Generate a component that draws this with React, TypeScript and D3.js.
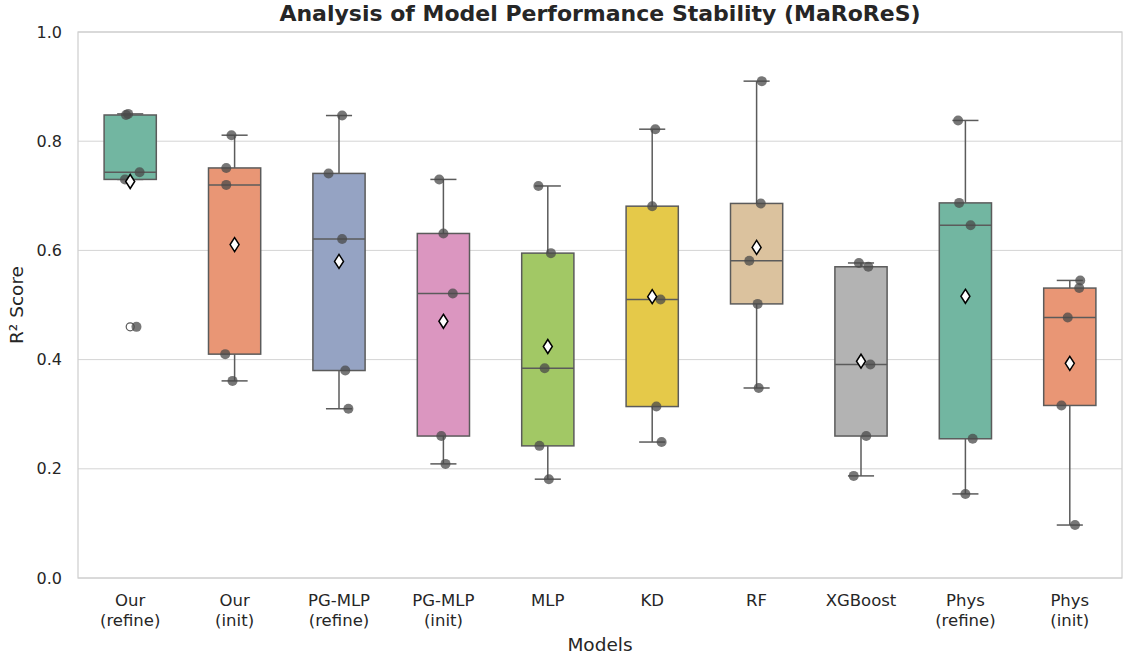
import React, { useEffect, useRef } from 'react';
import * as d3 from 'd3';

// model names (two-line tick labels)
const models = [
  'Our\n(refine)', 'Our\n(init)', 'PG-MLP\n(refine)', 'PG-MLP\n(init)', 'MLP',
  'KD', 'RF', 'XGBoost', 'Phys\n(refine)', 'Phys\n(init)',
];

// R² per run, five runs per model
const scores = [
  [0.850, 0.848, 0.743, 0.730, 0.460],
  [0.811, 0.751, 0.720, 0.410, 0.361],
  [0.847, 0.741, 0.621, 0.380, 0.310],
  [0.730, 0.631, 0.521, 0.260, 0.209],
  [0.718, 0.595, 0.384, 0.242, 0.181],
  [0.822, 0.681, 0.510, 0.314, 0.249],
  [0.910, 0.686, 0.581, 0.502, 0.348],
  [0.577, 0.570, 0.391, 0.260, 0.187],
  [0.838, 0.687, 0.646, 0.255, 0.154],
  [0.545, 0.531, 0.477, 0.316, 0.097],
];

// strip jitter, as a fraction of one category step
const jitter = [
  [-0.02, -0.04, 0.09, -0.05, 0.06],
  [-0.03, -0.08, -0.08, -0.09, -0.02],
  [0.03, -0.10, 0.03, 0.06, 0.09],
  [-0.04, 0.0, 0.09, -0.02, 0.02],
  [-0.09, 0.03, -0.03, -0.08, 0.01],
  [0.03, 0.0, 0.08, 0.04, 0.09],
  [0.05, 0.04, -0.07, 0.01, 0.02],
  [-0.02, 0.07, 0.09, 0.05, -0.07],
  [-0.07, -0.06, 0.05, 0.07, 0.0],
  [0.10, 0.09, -0.02, -0.08, 0.05],
];

const yTicks = [0.0, 0.2, 0.4, 0.6, 0.8, 1.0];

const App = () => {
  const svgRef = useRef(null);

  useEffect(() => {
    document.body.style.margin = '0';
    const width = 1123;
    const height = 658;
    const margin = { top: 32, right: 1, bottom: 80, left: 78 };
    const font = 'DejaVu Sans, sans-serif';
    const textColor = '#262626';
    const lineColor = '#5b5b5b';

    const svg = d3.select(svgRef.current);
    svg.selectAll('*').remove();

    const x = d3.scaleBand()
      .domain(models)
      .range([margin.left, width - margin.right]);
    const y = d3.scaleLinear()
      .domain([0, 1])
      .range([height - margin.bottom, margin.top]);

    // Set2, desaturated like seaborn does (0.75)
    const palette = d3.schemeSet2.map(c => {
      const h = d3.hsl(c);
      h.s *= 0.75;
      return h.formatHex();
    });

    // grid
    svg.append('g')
      .selectAll('line')
      .data(yTicks)
      .join('line')
      .attr('x1', margin.left)
      .attr('x2', width - margin.right)
      .attr('y1', d => y(d))
      .attr('y2', d => y(d))
      .attr('stroke', '#d4d4d4')
      .attr('stroke-width', 1);

    // frame
    svg.append('rect')
      .attr('x', margin.left)
      .attr('y', margin.top)
      .attr('width', width - margin.right - margin.left)
      .attr('height', height - margin.bottom - margin.top)
      .attr('fill', 'none')
      .attr('stroke', '#d0d0d0')
      .attr('stroke-width', 1.25);

    const boxW = x.bandwidth() * 0.5;
    const capW = boxW * 0.5;

    models.forEach((m, i) => {
      const vals = scores[i].slice().sort(d3.ascending);
      const q1 = d3.quantile(vals, 0.25);
      const med = d3.quantile(vals, 0.5);
      const q3 = d3.quantile(vals, 0.75);
      const iqr = q3 - q1;
      const lo = d3.min(vals.filter(v => v >= q1 - 1.5 * iqr));
      const hi = d3.max(vals.filter(v => v <= q3 + 1.5 * iqr));
      const fliers = vals.filter(v => v < lo || v > hi);
      const cx = x(m) + x.bandwidth() / 2;
      const g = svg.append('g');

      // whiskers
      [[q3, hi], [q1, lo]].forEach(([a, b]) => {
        g.append('line')
          .attr('x1', cx).attr('x2', cx)
          .attr('y1', y(a)).attr('y2', y(b))
          .attr('stroke', lineColor).attr('stroke-width', 1.5);
        g.append('line')
          .attr('x1', cx - capW / 2).attr('x2', cx + capW / 2)
          .attr('y1', y(b)).attr('y2', y(b))
          .attr('stroke', lineColor).attr('stroke-width', 1.5);
      });

      g.append('rect')
        .attr('x', cx - boxW / 2)
        .attr('y', y(q3))
        .attr('width', boxW)
        .attr('height', y(q1) - y(q3))
        .attr('fill', palette[i % palette.length])
        .attr('stroke', lineColor)
        .attr('stroke-width', 1.5);

      g.append('line')
        .attr('x1', cx - boxW / 2).attr('x2', cx + boxW / 2)
        .attr('y1', y(med)).attr('y2', y(med))
        .attr('stroke', lineColor).attr('stroke-width', 1.5);

      // outliers
      g.selectAll('circle.flier')
        .data(fliers)
        .join('circle')
        .attr('class', 'flier')
        .attr('cx', cx)
        .attr('cy', d => y(d))
        .attr('r', 4)
        .attr('fill', 'none')
        .attr('stroke', lineColor)
        .attr('stroke-width', 1.2);

      // strip points
      g.selectAll('circle.pt')
        .data(scores[i].map((v, j) => ({ v, j })))
        .join('circle')
        .attr('class', 'pt')
        .attr('cx', d => cx + jitter[i][d.j] * x.step())
        .attr('cy', d => y(d.v))
        .attr('r', 5)
        .attr('fill', '#4a4a4a')
        .attr('fill-opacity', 0.75);

      // mean marker, on top
      const my = y(d3.mean(scores[i]));
      g.append('path')
        .attr('d', `M${cx},${my - 7} L${cx + 4.5},${my} L${cx},${my + 7} L${cx - 4.5},${my} Z`)
        .attr('fill', 'white')
        .attr('stroke', 'black')
        .attr('stroke-width', 1.5);
    });

    // y tick labels
    svg.append('g')
      .selectAll('text')
      .data(yTicks)
      .join('text')
      .attr('x', margin.left - 16)
      .attr('y', d => y(d))
      .attr('dy', '0.35em')
      .attr('text-anchor', 'end')
      .attr('font-family', font)
      .attr('font-size', 16)
      .attr('fill', textColor)
      .text(d => d.toFixed(1));

    // x tick labels
    const xl = svg.append('g');
    models.forEach(m => {
      const t = xl.append('text')
        .attr('x', x(m) + x.bandwidth() / 2)
        .attr('y', height - margin.bottom + 28)
        .attr('text-anchor', 'middle')
        .attr('font-family', font)
        .attr('font-size', 16.5)
        .attr('fill', textColor);
      m.split('\n').forEach((line, k) => {
        t.append('tspan')
          .attr('x', x(m) + x.bandwidth() / 2)
          .attr('dy', k === 0 ? 0 : 20)
          .text(line);
      });
    });

    svg.append('text')
      .attr('x', (margin.left + width - margin.right) / 2)
      .attr('y', 651)
      .attr('text-anchor', 'middle')
      .attr('font-family', font)
      .attr('font-size', 18.5)
      .attr('fill', textColor)
      .text('Models');

    svg.append('text')
      .attr('transform', `translate(23, ${(margin.top + height - margin.bottom) / 2}) rotate(-90)`)
      .attr('text-anchor', 'middle')
      .attr('font-family', font)
      .attr('font-size', 18.5)
      .attr('fill', textColor)
      .text('R² Score');

    svg.append('text')
      .attr('x', (margin.left + width - margin.right) / 2)
      .attr('y', 21)
      .attr('text-anchor', 'middle')
      .attr('font-family', font)
      .attr('font-size', 22)
      .attr('font-weight', 'bold')
      .attr('fill', textColor)
      .text('Analysis of Model Performance Stability (MaRoReS)');
  }, []);

  return <svg ref={svgRef} width={1123} height={658} style={{ display: 'block' }}></svg>;
};

export default App;
